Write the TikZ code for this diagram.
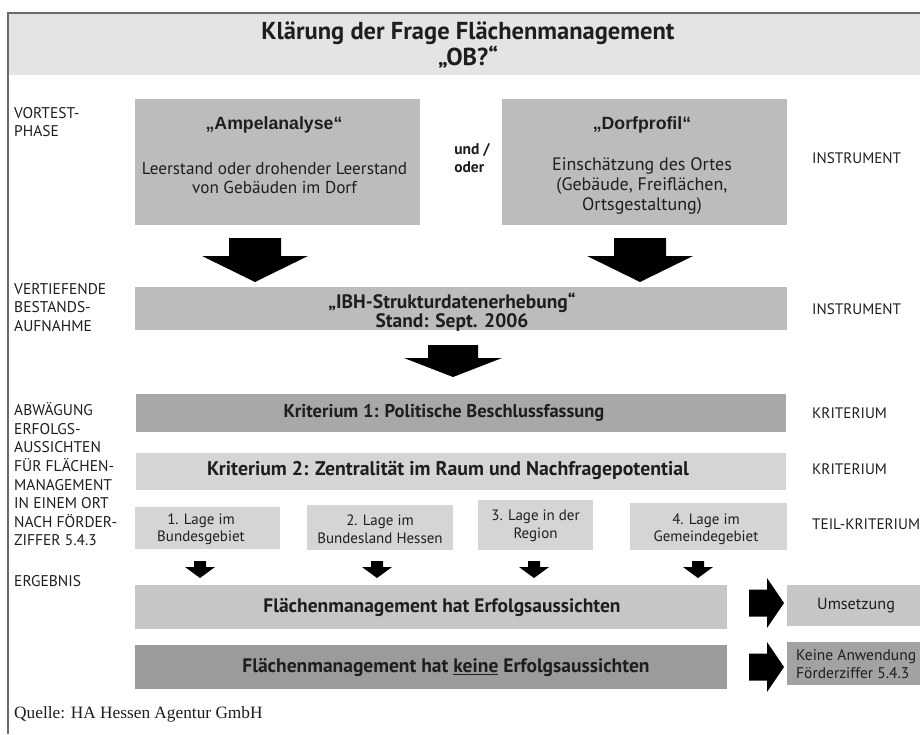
\documentclass[tikz,border=0pt]{standalone}
\usepackage{fontspec}
\setmainfont{PT Sans}
\newfontfamily\quellefont{Liberation Serif}
\newfontfamily\arialfont{Liberation Sans}
\usetikzlibrary{calc}
\definecolor{ink}{HTML}{1E1E1E}
\definecolor{hdrfill}{HTML}{E4E4E4}
\definecolor{framec}{HTML}{6A6A6A}
\definecolor{gmid}{HTML}{BCBCBC}
\definecolor{gdark}{HTML}{A8A8A8}
\definecolor{glight}{HTML}{D5D5D5}
\definecolor{gres}{HTML}{C6C6C6}
\definecolor{gresd}{HTML}{9B9B9B}
\definecolor{gkaw}{HTML}{A2A2A2}
\begin{document}
\begin{tikzpicture}[x=1pt,y=-1pt,
  txt/.style={text=ink, inner sep=0pt},
  lab/.style={txt, anchor=north west, align=left, font=\fontsize{15.5}{18.6}\selectfont},
  rlab/.style={txt, anchor=west, font=\fontsize{15.2}{18}\selectfont},
  box/.style={draw=none, inner sep=0pt, minimum width=#1},
  bt/.style={txt, align=center, font=\bfseries\fontsize{19.5}{18}\selectfont},
  ht/.style={txt, align=center, font=\arialfont\bfseries\fontsize{17.7}{20}\selectfont},
  st/.style={txt, align=center, font=\fontsize{15}{17.5}\selectfont},
  darr/.pic={\fill[black] (-26,0) -- (26,0) -- (26,18) -- (53,18) -- (0,44) -- (-53,18) -- (-26,18) -- cycle;},
  marr/.pic={\fill[black] (-25,0) -- (25,0) -- (25,13) -- (49,13) -- (0,32) -- (-49,13) -- (-25,13) -- cycle;},
  sarr/.pic={\fill[black] (-6,0) -- (6,0) -- (6,6) -- (15,6) -- (0,17) -- (-15,6) -- (-6,6) -- cycle;},
  rarr/.pic={\fill[black] (0,-13.5) -- (18,-13.5) -- (18,-25) -- (35,0) -- (18,25) -- (18,13.5) -- (0,13.5) -- cycle;}
]
\useasboundingbox (0,0) rectangle (920,734);
\fill[white] (0,0) rectangle (920,734);

% header band and frame
\fill[hdrfill] (8,13) rectangle (920,75);
\draw[framec, line width=1.4pt] (8,734) -- (8,13) -- (920,13);
\node[txt, align=center, font=\bfseries\fontsize{24.5}{24.5}\selectfont] (title) at (468,45)
  {Klärung der Frage Flächenmanagement\\„OB?“};

% left labels
\node[lab] (l1) at (14,107) {VORTEST-\\PHASE};
\node[lab] (l2) at (14,283) {VERTIEFENDE\\BESTANDS-\\AUFNAHME};
\node[lab] (l3) at (14,402.5) {ABWÄGUNG\\ERFOLGS-\\AUSSICHTEN\\FÜR FLÄCHEN-\\MANAGEMENT\\IN EINEM ORT\\NACH FÖRDER-\\ZIFFER 5.4.3};
\node[lab] (l4) at (14,575) {ERGEBNIS};

% right labels
\node[rlab] (r1) at (812,158) {INSTRUMENT};
\node[rlab] (r2) at (812,309) {INSTRUMENT};
\node[rlab] (r3) at (812,413) {KRITERIUM};
\node[rlab] (r4) at (812,469) {KRITERIUM};
\node[rlab] (r5) at (812,524) {TEIL-KRITERIUM};

% Vortest boxes
\node[box=285pt, minimum height=126pt, fill=gmid] (amp) at (277.5,162) {};
\node[ht] (ampt) at (274,125) {„Ampelanalyse“};
\node[txt, align=center, font=\fontsize{17.2}{19.5}\selectfont] (ampb) at (274.5,178) {Leerstand oder drohender Leerstand\\von Gebäuden im Dorf};
\node[box=285pt, minimum height=126pt, fill=gmid] (dorf) at (644.5,162) {};
\node[ht] (dorft) at (642,125) {„Dorfprofil“};
\node[txt, align=center, font=\fontsize{18}{20}\selectfont] (dorfb) at (642,186) {Einschätzung des Ortes\\(Gebäude, Freiflächen,\\Ortsgestaltung)};
\node[txt, align=left, font=\bfseries\fontsize{15.5}{18}\selectfont] (und) at (472,158) {und /\\oder};

\coordinate (a1) at (255,238);
\coordinate (a2) at (640,238);
\pic at (a1) {darr};
\pic at (a2) {darr};

% IBH
\node[box=652pt, minimum height=43pt, fill=gmid] (ibh) at (461,308.5) {};
\node[bt, font=\bfseries\fontsize{19.5}{18.5}\selectfont] (ibht) at (452,312) {„IBH-Strukturdatenerhebung“\\Stand: Sept. 2006};

\coordinate (a3) at (453,345);
\pic at (a3) {marr};

% criteria
\node[box=650pt, minimum height=38pt, fill=gdark] (k1) at (461,413) {};
\node[bt, font=\bfseries\fontsize{18.5}{18}\selectfont] (k1t) at (444,413) {Kriterium 1: Politische Beschlussfassung};
\node[box=650pt, minimum height=37pt, fill=glight] (k2) at (461,471.5) {};
\node[bt, font=\bfseries\fontsize{19.8}{18}\selectfont] (k2t) at (448,470) {Kriterium 2: Zentralität im Raum und Nachfragepotential};

% sub criteria
\node[box=145pt, minimum height=42pt, fill=glight] (s1) at (207.5,528) {};
\node[box=146pt, minimum height=45pt, fill=glight] (s2) at (380,527.5) {};
\node[box=115pt, minimum height=50pt, fill=glight] (s3) at (535.5,525) {};
\node[box=157pt, minimum height=47pt, fill=glight] (s4) at (708.5,526.5) {};
\node[st] (s1t) at (201,529) {1. Lage im\\Bundesgebiet};
\node[st] (s2t) at (380,529) {2. Lage im\\Bundesland Hessen};
\node[st] (s3t) at (535.5,526) {3. Lage in der\\Region};
\node[st] (s4t) at (706,529) {4. Lage im\\Gemeindegebiet};

\coordinate (b1) at (200,561);
\coordinate (b2) at (377,561);
\coordinate (b3) at (534,561);
\coordinate (b4) at (698,561);
\foreach \c in {b1,b2,b3,b4} {\pic at (\c) {sarr};}

% results
\node[box=592pt, minimum height=44pt, fill=gres] (e1) at (431,606.5) {};
\node[bt] (e1t) at (442,608) {Flächenmanagement hat Erfolgsaussichten};
\node[box=592pt, minimum height=44pt, fill=gresd] (e2) at (431,666.5) {};
\node[bt] (e2t) at (446,668) {Flächenmanagement hat \underline{keine} Erfolgsaussichten};

\coordinate (c1) at (749,603);
\coordinate (c2) at (749,667);
\pic at (c1) {rarr};
\pic at (c2) {rarr};

\fill[gres] (787,585) rectangle (930,626);
\node[txt, anchor=west, font=\fontsize{16.2}{18}\selectfont] (ums) at (817,606) {Umsetzung};
\fill[gkaw] (787,642) rectangle (930,685);
\node[txt, anchor=west, align=left, font=\fontsize{15.5}{17.5}\selectfont] (kaw) at (796,664) {Keine Anwendung\\Förderziffer 5.4.3};

\node[txt, anchor=west, font=\quellefont\fontsize{17.3}{20}\selectfont] (quelle) at (14,714) {Quelle: HA Hessen Agentur GmbH};
\end{tikzpicture}
\end{document}
